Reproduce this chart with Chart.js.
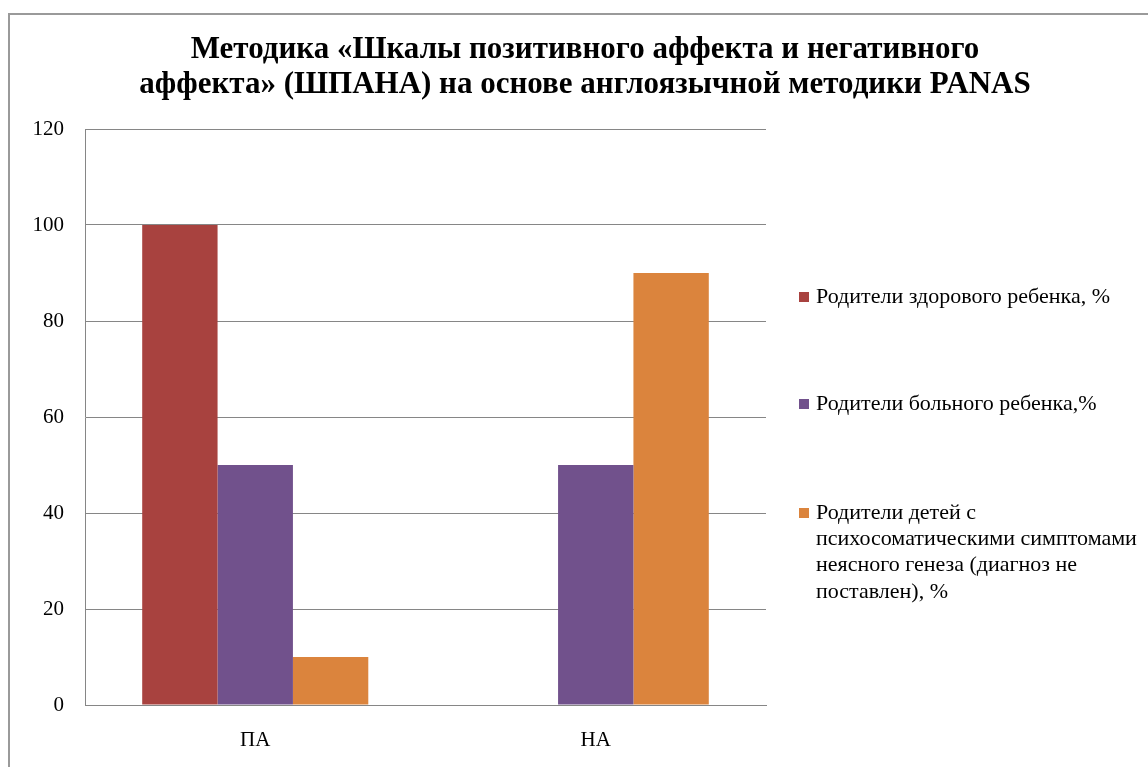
<!DOCTYPE html>
<html lang="ru">
<head>
<meta charset="utf-8">
<title>ШПАНА</title>
<script src="https://cdn.jsdelivr.net/npm/chart.js@4"></script>
<style>
  html, body { margin: 0; padding: 0; background: #fff; }
</style>
</head>
<body>
<canvas id="panas" width="1148" height="767"></canvas>
<script>
const categories = ['ПА', 'НА'];
const healthyChild = [100, 0];
const sickChild = [50, 50];
const undiagnosed = [10, 90];
const seriesLabels = [
  ['Родители здорового ребенка, %'],
  ['Родители больного ребенка,%'],
  ['Родители детей с', 'психосоматическими симптомами', 'неясного генеза (диагноз не', 'поставлен), %']
];
const titleLines = [
  'Методика «Шкалы позитивного аффекта и негативного',
  'аффекта» (ШПАНА) на основе англоязычной методики PANAS'
];
const yMax = 120;
const yStep = 20;

const SERIF = '"Liberation Serif", "Times New Roman", serif';
const GRID = '#868686';
const colors = ['#A8423F', '#71518C', '#DB843D'];

// frame, two-line title and the wrapped legend on the right
const decorations = {
  id: 'decorations',
  beforeDraw(chart) {
    const ctx = chart.ctx;
    ctx.save();
    ctx.strokeStyle = '#9a9a9a';
    ctx.lineWidth = 2;
    ctx.beginPath();
    ctx.moveTo(9, chart.height);
    ctx.lineTo(9, 14);
    ctx.lineTo(chart.width, 14);
    ctx.stroke();
    ctx.restore();
  },
  afterDraw(chart) {
    const ctx = chart.ctx;
    ctx.save();
    ctx.fillStyle = '#000';
    ctx.font = 'bold 31px ' + SERIF;
    ctx.textAlign = 'center';
    ctx.textBaseline = 'alphabetic';
    titleLines.forEach((line, i) => ctx.fillText(line, 585, 58 + i * 35));

    const rows = [297, 404, 513];
    ctx.font = '22px ' + SERIF;
    ctx.textAlign = 'left';
    ctx.textBaseline = 'middle';
    chart.data.datasets.forEach((ds, i) => {
      ctx.fillStyle = ds.backgroundColor;
      ctx.fillRect(799, rows[i] - 5, 10, 10);
      ctx.fillStyle = '#000';
      seriesLabels[i].forEach((line, j) => ctx.fillText(line, 816, rows[i] + j * 26.3));
    });
    ctx.restore();
  }
};

new Chart(document.getElementById('panas'), {
  type: 'bar',
  data: {
    labels: categories,
    datasets: [healthyChild, sickChild, undiagnosed].map((values, i) => ({
      label: seriesLabels[i].join(' '),
      data: values,
      backgroundColor: colors[i],
      borderWidth: 0,
      barPercentage: 1,
      categoryPercentage: 0.664
    }))
  },
  options: {
    responsive: false,
    animation: false,
    layout: { padding: { top: 129, right: 382, bottom: 0, left: 0 } },
    plugins: {
      legend: { display: false },
      title: { display: false },
      tooltip: { enabled: false }
    },
    scales: {
      y: {
        min: 0,
        max: yMax,
        ticks: { stepSize: yStep, color: '#000', padding: 21, font: { family: SERIF, size: 21 } },
        grid: { color: GRID, drawTicks: false },
        border: { color: GRID },
        afterFit: scale => { scale.width = 85; }
      },
      x: {
        ticks: { color: '#000', padding: 23, font: { family: SERIF, size: 21 } },
        grid: { display: false, drawTicks: false },
        border: { color: GRID },
        afterFit: scale => { scale.height = 62; }
      }
    }
  },
  plugins: [decorations]
});
</script>
</body>
</html>
